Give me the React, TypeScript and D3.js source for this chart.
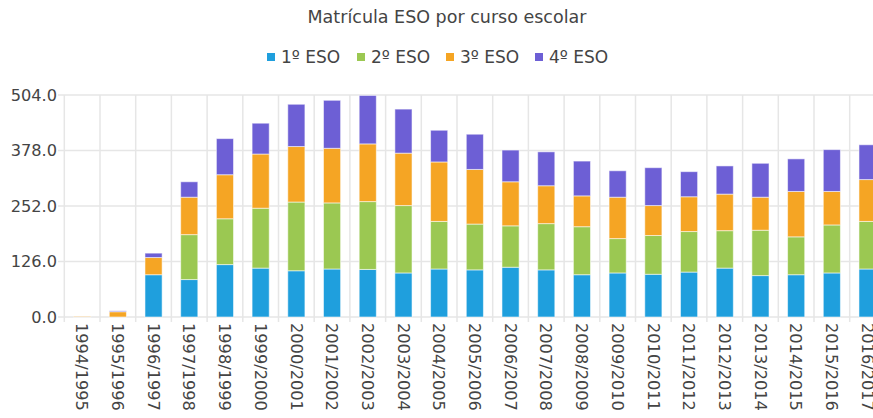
import React from "react";
import * as d3 from "d3";

const categories = [
  "1994/1995", "1995/1996", "1996/1997", "1997/1998", "1998/1999", "1999/2000",
  "2000/2001", "2001/2002", "2002/2003", "2003/2004", "2004/2005", "2005/2006",
  "2006/2007", "2007/2008", "2008/2009", "2009/2010", "2010/2011", "2011/2012",
  "2012/2013", "2013/2014", "2014/2015", "2015/2016", "2016/2017",
];
const seriesNames = ["1º ESO", "2º ESO", "3º ESO", "4º ESO"];
const eso1 = [0, 0, 96, 85, 119, 111, 105, 109, 108, 100, 109, 107, 113, 107, 96, 100, 97, 102, 111, 94, 96, 100, 109];
const eso2 = [0, 0, 0, 102, 104, 136, 156, 150, 154, 153, 108, 104, 94, 105, 109, 78, 88, 92, 85, 103, 86, 109, 108];
const eso3 = [1, 12, 39, 85, 100, 123, 126, 124, 131, 119, 135, 124, 100, 86, 70, 94, 68, 79, 83, 75, 103, 76, 95];
const eso4 = [0, 2, 10, 35, 82, 70, 96, 109, 110, 100, 72, 80, 72, 77, 79, 60, 86, 57, 64, 77, 74, 95, 79];
const yTicks = [0, 126, 252, 378, 504];
const colors = ["#1f9fdd", "#9bc852", "#f5a524", "#6d5fd5"];

const W = 873;
const H = 418;
const FONT = "'DejaVu Sans', sans-serif";

export default function App() {
  const step = 35.7;
  const left = 64.3;
  const x = d3
    .scaleBand<string>()
    .domain(categories)
    .range([left, left + step * categories.length])
    .paddingInner(0.52)
    .paddingOuter(0.26);
  const y = d3.scaleLinear().domain([0, 504]).range([317, 95]);

  const rows = categories.map((c, i) => ({
    cat: c,
    s0: eso1[i],
    s1: eso2[i],
    s2: eso3[i],
    s3: eso4[i],
  }));
  const stack = d3.stack<any>().keys(["s0", "s1", "s2", "s3"])(rows);

  const boundaries = categories.map((_, i) => left + step * i);
  boundaries.push(left + step * categories.length);

  const legendX = [267, 357, 446, 535];

  return (
    <svg width={W} height={H} style={{ display: "block", position: "absolute", left: 0, top: 0 }}>
      <rect x={0} y={0} width={W} height={H} fill="#ffffff" />
      <text x={447} y={23} textAnchor="middle" fontFamily={FONT} fontSize={17.5} fill="#444">
        Matrícula ESO por curso escolar
      </text>
      {seriesNames.map((n, i) => (
        <g key={n}>
          <rect x={legendX[i]} y={53} width={8} height={8} fill={colors[i]} />
          <text x={legendX[i] + 14} y={63} fontFamily={FONT} fontSize={17} fill="#444">
            {n}
          </text>
        </g>
      ))}
      {yTicks.map((t) => (
        <g key={t}>
          <line x1={58} x2={W} y1={y(t)} y2={y(t)} stroke="#e6e6e6" strokeWidth={1.5} />
          <text x={57} y={y(t)} dy="0.36em" textAnchor="end" fontFamily={FONT} fontSize={16.2} fill="#444">
            {t.toFixed(1)}
          </text>
        </g>
      ))}
      {boundaries.map((b, i) => (
        <line key={i} x1={b} x2={b} y1={95} y2={322} stroke="#e6e6e6" strokeWidth={1.5} />
      ))}
      {stack.map((layer, si) => (
        <g key={si} fill={colors[si]}>
          {layer.map((d: any, i: number) =>
            d[1] - d[0] > 0 ? (
              <rect
                key={i}
                x={x(categories[i])}
                width={x.bandwidth()}
                y={y(d[1])}
                height={y(d[0]) - y(d[1])}
                stroke="rgba(255,255,255,0.55)"
                strokeWidth={1}
              />
            ) : null
          )}
        </g>
      ))}
      {categories.map((c) => (
        <text
          key={c}
          transform={`translate(${(x(c) as number) + x.bandwidth() / 2},323) rotate(90)`}
          dy="0.36em"
          fontFamily={FONT}
          fontSize={16.2}
          fill="#444"
        >
          {c}
        </text>
      ))}
    </svg>
  );
}
